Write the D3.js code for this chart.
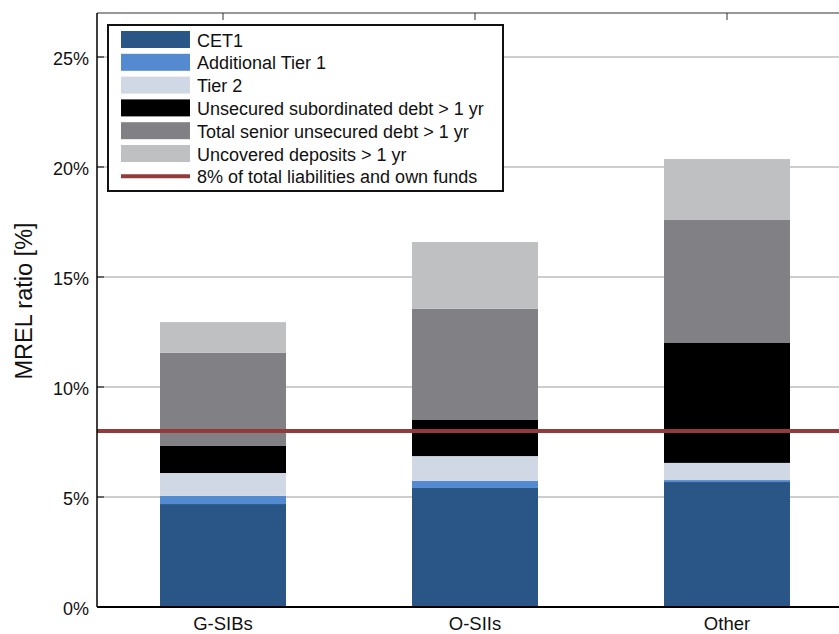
<!DOCTYPE html>
<html>
<head>
<meta charset="utf-8">
<script src="https://cdn.jsdelivr.net/npm/d3@7"></script>
<style>
  html, body { margin: 0; padding: 0; background: #fff; }
  svg { display: block; font-family: "Liberation Sans", Arial, sans-serif; }
</style>
</head>
<body>
<svg id="chart" width="839" height="634"></svg>
<script>
// ---- data ----
const categories = ["G-SIBs", "O-SIIs", "Other"];
const seriesNames = [
  "CET1",
  "Additional Tier 1",
  "Tier 2",
  "Unsecured subordinated debt > 1 yr",
  "Total senior unsecured debt > 1 yr",
  "Uncovered deposits > 1 yr"
];
// segment heights (percentage points)
const cet1        = [4.68, 5.41, 5.68];
const at1         = [0.37, 0.32, 0.09];
const tier2       = [1.04, 1.13, 0.78];
const subDebt     = [1.23, 1.64, 5.45];
const seniorDebt  = [4.23, 5.05, 5.59];
const deposits    = [1.40, 3.04, 2.77];
const thresholdValue = 8;
const thresholdLabel = "8% of total liabilities and own funds";
const yTicks = [0, 5, 10, 15, 20, 25];
const yLabel = "MREL ratio [%]";

(function () {
const colors = ["#2a5587", "#548bd0", "#d0d8e6", "#000000", "#818085", "#bfc0c2"];
const seriesValues = [cet1, at1, tier2, subDebt, seniorDebt, deposits];

// ---- layout ----
const svg = d3.select("#chart");
const pL = 97, pR = 853, pT = 13, pB = 607;

const x = d3.scaleLinear().domain([0.5, 3.5]).range([pL, pR]);
const y = d3.scaleLinear().domain([0, 27]).range([pB, pT]);
const barW = x(1.25) - x(0.75);

// gridlines
svg.append("g")
  .selectAll("line")
  .data(yTicks.filter(d => d > 0))
  .join("line")
  .attr("x1", pL).attr("x2", pR)
  .attr("y1", d => y(d)).attr("y2", d => y(d))
  .attr("stroke", "#9c9c9c").attr("stroke-width", 1);

// stacked bars
const rows = categories.map((c, i) => {
  const r = { cat: c };
  seriesNames.forEach((s, j) => r[s] = seriesValues[j][i]);
  return r;
});
const stack = d3.stack().keys(seriesNames)(rows);

svg.append("g")
  .selectAll("g")
  .data(stack)
  .join("g")
  .attr("fill", (d, i) => colors[i])
  .selectAll("rect")
  .data(d => d)
  .join("rect")
  .attr("x", (d, i) => x(i + 1) - barW / 2)
  .attr("width", barW)
  .attr("y", d => y(d[1]))
  .attr("height", d => y(d[0]) - y(d[1]));

// threshold line
svg.append("line")
  .attr("x1", pL).attr("x2", pR)
  .attr("y1", y(thresholdValue)).attr("y2", y(thresholdValue))
  .attr("stroke", "#933b3b").attr("stroke-width", 4);

// axes frame
svg.append("line").attr("x1", pL).attr("x2", pR).attr("y1", pT).attr("y2", pT)
  .attr("stroke", "#333").attr("stroke-width", 1.2);
svg.append("line").attr("x1", pL).attr("x2", pL).attr("y1", pT).attr("y2", pB)
  .attr("stroke", "#000").attr("stroke-width", 1.5);
svg.append("line").attr("x1", pL).attr("x2", pR).attr("y1", pB).attr("y2", pB)
  .attr("stroke", "#000").attr("stroke-width", 2);

// y ticks (inward) and labels
const yAxis = svg.append("g");
yAxis.selectAll("line")
  .data(yTicks)
  .join("line")
  .attr("x1", pL).attr("x2", pL + 7)
  .attr("y1", d => y(d)).attr("y2", d => y(d))
  .attr("stroke", "#000").attr("stroke-width", 1);
yAxis.selectAll("text")
  .data(yTicks)
  .join("text")
  .attr("x", pL - 8)
  .attr("y", d => y(d) + 7.5)
  .attr("text-anchor", "end")
  .attr("font-size", 18)
  .attr("fill", "#111")
  .text(d => d + "%");

// top ticks at categories (inward)
svg.append("g").selectAll("line")
  .data(categories)
  .join("line")
  .attr("x1", (d, i) => x(i + 1)).attr("x2", (d, i) => x(i + 1))
  .attr("y1", pT).attr("y2", pT + 7)
  .attr("stroke", "#333").attr("stroke-width", 1);

// x labels
svg.append("g").selectAll("text")
  .data(categories)
  .join("text")
  .attr("x", (d, i) => x(i + 1))
  .attr("y", 629.5)
  .attr("text-anchor", "middle")
  .attr("font-size", 18.5)
  .attr("fill", "#111")
  .text(d => d);

// y axis title
svg.append("text")
  .attr("transform", `translate(32, 301) rotate(-90)`)
  .attr("text-anchor", "middle")
  .attr("font-size", 23.5)
  .attr("fill", "#111")
  .text(yLabel);

// legend
const lg = svg.append("g");
lg.append("rect")
  .attr("x", 108).attr("y", 25)
  .attr("width", 395).attr("height", 166)
  .attr("fill", "#fff").attr("stroke", "#111").attr("stroke-width", 2);
const rowY = i => 39.5 + i * 22.8;
seriesNames.forEach((s, i) => {
  lg.append("rect")
    .attr("x", 121).attr("y", rowY(i) - 8.5)
    .attr("width", 69).attr("height", 17)
    .attr("fill", colors[i]);
  lg.append("text")
    .attr("x", 197).attr("y", rowY(i) + 7)
    .attr("font-size", 18)
    .attr("fill", "#111")
    .text(s);
});
lg.append("line")
  .attr("x1", 121).attr("x2", 190)
  .attr("y1", rowY(6)).attr("y2", rowY(6))
  .attr("stroke", "#933b3b").attr("stroke-width", 4);
lg.append("text")
  .attr("x", 197).attr("y", rowY(6) + 7)
  .attr("font-size", 18)
  .attr("fill", "#111")
  .text(thresholdLabel);
})();
</script>
</body>
</html>
